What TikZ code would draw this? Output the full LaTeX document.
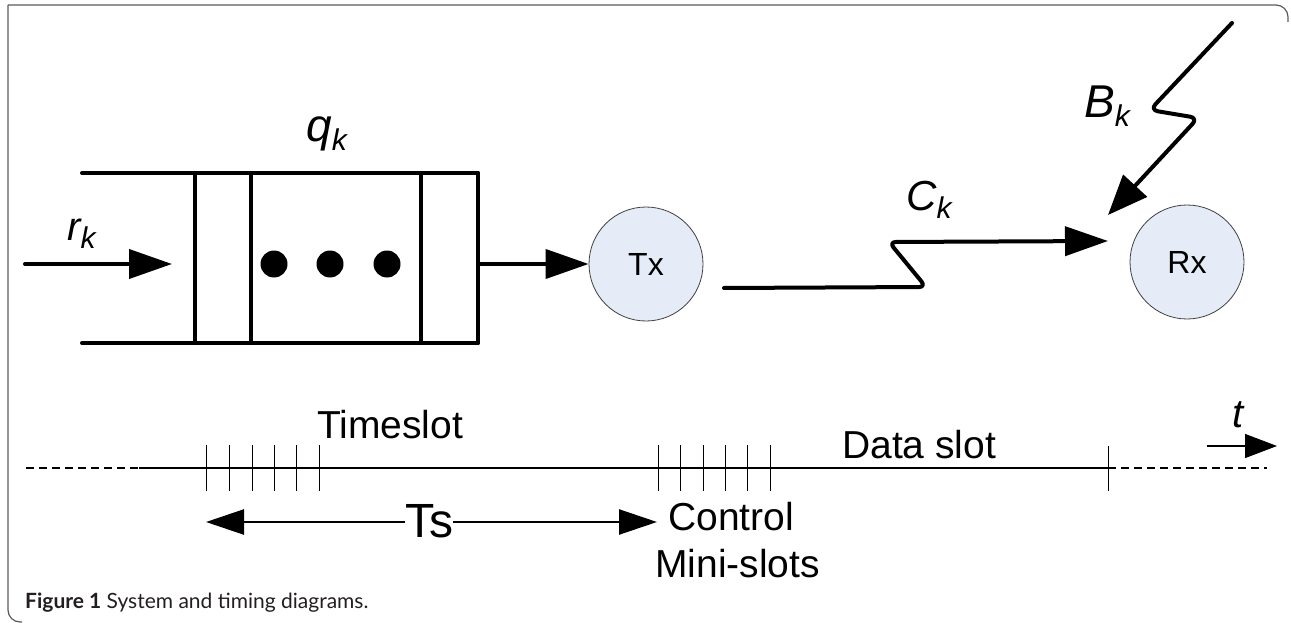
\documentclass[tikz,border=0pt]{standalone}
\usepackage{fontspec}
\setmainfont{Liberation Sans}
\newfontfamily\capfont{Lato}
\usetikzlibrary{arrows.meta}

\definecolor{nodefill}{HTML}{E6ECF7}
\definecolor{framegray}{HTML}{5A5A5A}
\definecolor{captext}{HTML}{231F20}

% italic symbol with an italic subscript; optional argument is the symbol size
\newcommand{\symsub}[3][40]{{\fontsize{#1}{#1}\selectfont\itshape #2\raisebox{-9pt}{\fontsize{30}{34}\selectfont #3}}}

\tikzset{
  thick line/.style={line width=4pt, line cap=round, line join=round},
  bigarrow/.style={thick line, -{Triangle[length=43pt,width=29pt]}},
  station/.style={circle, draw=black!75, line width=0.8pt, fill=nodefill,
                  minimum size=114pt, inner sep=0pt, font=\fontsize{32}{36}\selectfont},
  axis/.style={line width=1.3pt},
  dashaxis/.style={line width=1.3pt, dash pattern=on 8pt off 5pt},
  tick/.style={line width=1pt},
  slotlabel/.style={anchor=base west, inner sep=0pt, font=\fontsize{39}{44}\selectfont},
  symlabel/.style={anchor=base west, inner sep=0pt},
}

\begin{document}
\begin{tikzpicture}[x=1pt,y=-1pt]
\useasboundingbox (0,0) rectangle (1291,623);

% figure frame
\draw[framegray, line width=1.2pt, rounded corners=12pt] (8,5) -- (1288,5) -- (1288,22);
\draw[framegray, line width=1.2pt, rounded corners=12pt] (8,5) -- (8,622) -- (22,622);

% queue
\coordinate (qin) at (25,264);
\coordinate (qentry) at (172,264);
\coordinate (qout) at (478,264);
\draw[thick line] (82,173) -- (478,173);
\draw[thick line] (82,343) -- (478,343);
\foreach \x in {195,251,421,478} \draw[thick line] (\x,173) -- (\x,343);
\foreach \x in {274,330,387} \fill (\x,264) circle (13.5pt);
\draw[bigarrow] (qin) -- (qentry);
\node[symlabel] (rk) at (67,240) {\symsub[40]{r}{k}};
\node[symlabel] (qk) at (306,142) {\symsub[46]{q}{k}};

% transmitter and receiver
\node[station] (tx) at (646,264) {Tx};
\node[station] (rx) at (1187,262) {Rx};
\draw[bigarrow] (qout) -- (tx.west);

% channel link
\coordinate (cstart) at (724,288);
\coordinate (cend) at (1108,241);
\draw[thick line, rounded corners=7pt, -{Triangle[length=43pt,width=29pt]}]
  (cstart) -- (926,287) -- (889,242) -- (cend);
\node[symlabel] (ck) at (906,210) {\symsub[42]{C}{k}};

% interference link
\coordinate (bstart) at (1232,23);
\coordinate (bend) at (1108,215);
\draw[thick line, rounded corners=8pt, -{Triangle[length=40pt,width=32pt]}]
  (bstart) -- (1150,110) -- (1198,118) -- (bend);
\node[symlabel] (bk) at (1084,118) {\symsub[46]{B}{k}};

% time axis
\coordinate (a0) at (26,468);
\coordinate (a1) at (139,468);
\coordinate (a2) at (1108,468);
\coordinate (a3) at (1267,468);
\draw[dashaxis] (a0) -- (a1);
\draw[axis] (a1) -- (a2);
\draw[dashaxis] (a2) -- (a3);
\foreach \x in {206,229,252,274,296,319,658,680,703,725,747,770}
  \draw[tick] (\x,445) -- (\x,491);
\draw[tick] (1108,446) -- (1108,491);

\node[slotlabel] (timeslot) at (317,438) {Timeslot};
\node[slotlabel] (dataslot) at (842,458) {Data slot};
\node[slotlabel] (control) at (668,530) {Control};
\node[slotlabel] (minislots) at (655,577) {Mini-slots};

% slot duration
\coordinate (tsl) at (206,522);
\coordinate (tsr) at (657,522);
\node[anchor=base, inner sep=0pt, font=\fontsize{48}{54}\selectfont] (ts) at (429,537) {Ts};
\draw[line width=2.5pt, -{Triangle[length=38pt,width=25pt]}] (ts.west |- tsl) -- (tsl);
\draw[line width=2.5pt, -{Triangle[length=38pt,width=25pt]}] (ts.east |- tsr) -- (tsr);

% time direction
\coordinate (tarr0) at (1207,446);
\coordinate (tarr1) at (1277,446);
\draw[line width=1.3pt, -{Triangle[length=32pt,width=24pt]}] (tarr0) -- (tarr1);
\node[symlabel, font=\fontsize{40}{46}\selectfont\itshape] (tlabel) at (1232,427) {t};

% caption
\node[anchor=base west, inner sep=0pt, text=captext, font=\capfont\fontsize{21}{24}\selectfont] (caption) at (25,608)
  {\textbf{Figure 1} System and timing diagrams.};
\end{tikzpicture}
\end{document}
